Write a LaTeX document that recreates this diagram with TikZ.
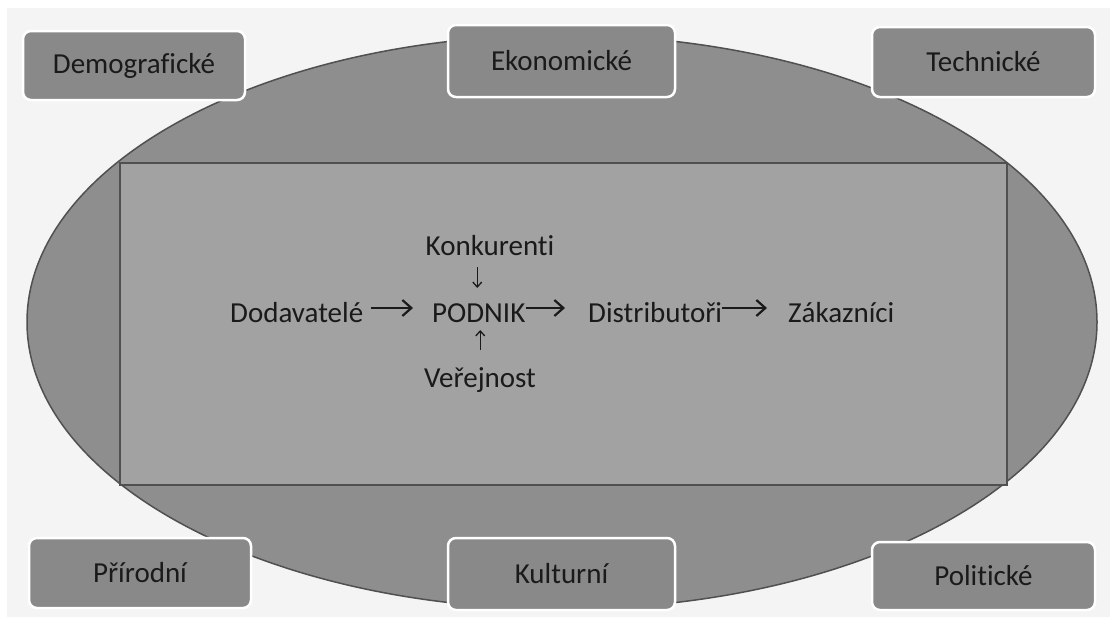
\documentclass[tikz,border=0pt]{standalone}
\usepackage{fontspec}
\setmainfont{Carlito}[Ligatures=NoCommon, RawFeature={-liga;-dlig;-clig}]
\usetikzlibrary{arrows.meta}
\definecolor{panel}{HTML}{F4F4F4}
\definecolor{ellfill}{HTML}{8E8E8E}
\definecolor{rectfill}{HTML}{A2A2A2}
\definecolor{boxfill}{HTML}{898989}
\definecolor{edgec}{HTML}{505050}
\definecolor{txt}{HTML}{1A1A1A}
\tikzset{
  envbox/.style={draw=white, line width=2.5pt, fill=boxfill, rounded corners=8pt,
    font=\fontsize{29}{34}\selectfont, text=txt, inner sep=0pt},
  actor/.style={font=\fontsize{29}{34}\selectfont, text=txt, inner sep=0pt, anchor=base west},
  harr/.style={draw=txt, line width=2.2pt, -{Straight Barb[length=9pt,width=16pt,line width=2.2pt]}},
  varr/.style={draw=txt, line width=1.3pt, -{Straight Barb[length=5pt,width=9pt,line width=1.3pt]}}
}
\begin{document}
\begin{tikzpicture}[x=1pt,y=-1pt]
\useasboundingbox (0,0) rectangle (1110,621);
\fill[white] (0,0) rectangle (1110,621);
\fill[panel] (7,8) rectangle (1110,617);
\draw[edgec, line width=1.5pt, fill=ellfill] (562,322) ellipse [x radius=535pt, y radius=287pt];
\draw[edgec, line width=2pt, fill=rectfill] (120,163) rectangle (1007,485);

\node[envbox, minimum width=222pt, minimum height=69pt] (dem) at (134,65.5) {Demograf\kern0pt ické};
\node[envbox, minimum width=227pt, minimum height=72pt] (eko) at (561.5,61) {Ekonomické};
\node[envbox, minimum width=223pt, minimum height=70pt] (tec) at (983.5,62) {Technické};
\node[envbox, minimum width=222pt, minimum height=70pt] (pri) at (140,573) {Přírodní};
\node[envbox, minimum width=227pt, minimum height=72pt] (kul) at (561.5,574) {Kulturní};
\node[envbox, minimum width=223pt, minimum height=68pt] (pol) at (983.5,576) {Politické};

\node[actor] (dod) at (230,322) {Dodavatelé};
\node[actor] (pod) at (432,322) {PODNIK};
\node[actor] (dis) at (588,322) {Distributoři};
\node[actor] (zak) at (788,322) {Zákazníci};
\node[actor, anchor=base] (kon) at (490,255) {Konkurenti};
\node[actor, anchor=base] (ver) at (480,387) {Veřejnost};

\draw[harr, shorten <=8pt, shorten >=19pt] ([yshift=14pt]dod.base east) -- ([yshift=14pt]pod.base west);
\draw[harr, shorten <=0pt, shorten >=23pt] ([yshift=14pt]pod.base east) -- ([yshift=14pt]dis.base west);
\draw[harr, shorten <=0pt, shorten >=21pt] ([yshift=14pt]dis.base east) -- ([yshift=14pt]zak.base west);
\draw[varr, shorten <=12pt, shorten >=34pt] ([xshift=-1.5pt]kon.base -| pod.base) -- ([xshift=-1.5pt]pod.base -| pod.north);
\draw[varr, shorten <=37pt, shorten >=8pt] ([xshift=1.5pt]ver.base -| pod.north) -- ([xshift=1.5pt]pod.north |- pod.base);
\end{tikzpicture}
\end{document}
